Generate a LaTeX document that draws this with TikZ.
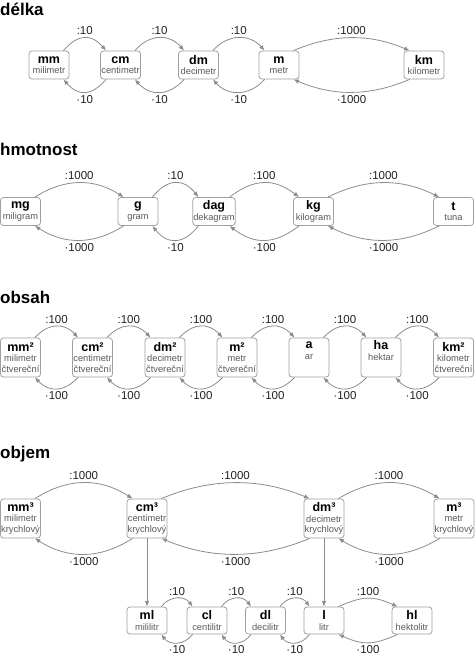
\documentclass[tikz,border=0pt]{standalone}
\usepackage{fontspec}
\setmainfont{Liberation Sans}
\usetikzlibrary{arrows.meta}
\definecolor{boxgray}{HTML}{A0A0A0}
\definecolor{arrowgray}{HTML}{8C8C8C}
\definecolor{namegray}{HTML}{5A5A5A}
\definecolor{labelgray}{HTML}{222222}
\newcommand{\jed}[1]{{\color{black}\fontsize{12.5}{13}\selectfont\bfseries #1}}

\begin{document}
\begin{tikzpicture}[x=1pt,y=-1pt]
  \tikzset{unitbox/.style = {draw=boxgray, line width=0.8pt, rounded corners=3pt, fill=white, align=center, minimum width=40pt, minimum height=28pt, inner xsep=0.5pt, inner ysep=1pt, text=namegray, font=\fontsize{9.3}{10.5}\selectfont}}
  \tikzset{tallbox/.style = {unitbox, minimum height=39pt}}
  \tikzset{lowbox/.style = {unitbox, minimum height=27pt}}
  \tikzset{conv/.style = {draw=arrowgray, line width=0.8pt, -{Latex[length=5.5pt,width=4.5pt]}}}
  \tikzset{factor/.style = {text=labelgray, font=\fontsize{11.5}{13}\selectfont, inner sep=2.5pt}}
  \tikzset{heading/.style = {anchor=base west, inner sep=0pt, font=\fontsize{17}{18}\selectfont\bfseries}}

  \useasboundingbox (0,0) rectangle (474,656);

  % délka
  \node[heading] (tdelka) at (0,15) {délka};
  \node[unitbox] (mm) at (49,65) {\jed{mm}\\milimetr};
  \node[unitbox] (cm) at (120.5,65) {\jed{cm}\\centimetr};
  \node[unitbox] (dm) at (198.5,65) {\jed{dm}\\decimetr};
  \node[unitbox] (m) at (279,65) {\jed{m}\\metr};
  \node[unitbox] (km) at (424,65) {\jed{km}\\kilometr};

  \foreach \from/\to/\q/\d in {mm/cm/10/15, cm/dm/10/15, dm/m/10/15, m/km/1000/40} {
    \draw[conv] ([xshift=-6pt]\from.north east) .. controls +(\d,-17) and +(-\d,-17) .. ([xshift=6pt]\to.north west) node[factor, above, midway] {:\q};
    \draw[conv] ([xshift=6pt]\to.south west) .. controls +(-\d,17) and +(\d,17) .. ([xshift=-6pt]\from.south east) node[factor, below, midway] {·\q};
  }

  % hmotnost
  \node[heading] (thmot) at (0,155) {hmotnost};
  \node[unitbox] (mg) at (20.5,211.5) {\jed{mg}\\miligram};
  \node[unitbox] (g) at (138,211.5) {\jed{g}\\gram};
  \node[unitbox] (dag) at (214,211.5) {\jed{dag}\\dekagram};
  \node[unitbox] (kg) at (313.5,211.5) {\jed{kg}\\kilogram};
  \node[unitbox] (t) at (453.5,211.5) {\jed{t}\\tuna};

  \foreach \from/\to/\q/\d in {mg/g/1000/30, g/dag/10/15, dag/kg/100/25, kg/t/1000/38} {
    \draw[conv] ([xshift=-6pt]\from.north east) .. controls +(\d,-19) and +(-\d,-19) .. ([xshift=6pt]\to.north west) node[factor, above, midway] {:\q};
    \draw[conv] ([xshift=6pt]\to.south west) .. controls +(-\d,19) and +(\d,19) .. ([xshift=-6pt]\from.south east) node[factor, below, midway] {·\q};
  }

  % obsah
  \node[heading] (tobsah) at (0,303) {obsah};
  \node[tallbox] (mmq) at (20.5,357.5) {\jed{mm²}\\milimetr\\čtvereční};
  \node[tallbox] (cmq) at (92.5,357.5) {\jed{cm²}\\centimetr\\čtvereční};
  \node[tallbox] (dmq) at (165,357.5) {\jed{dm²}\\decimetr\\čtvereční};
  \node[tallbox] (mq) at (237,357.5) {\jed{m²}\\metr\\čtvereční};
  \node[tallbox] (a) at (309,357.5) {\jed{a}\\ar\\\strut};
  \node[tallbox] (ha) at (381,357.5) {\jed{ha}\\hektar\\\strut};
  \node[tallbox] (kmq) at (453.5,357.5) {\jed{km²}\\kilometr\\čtvereční};

  \foreach \from/\to in {mmq/cmq, cmq/dmq, dmq/mq, mq/a, a/ha, ha/kmq} {
    \draw[conv] ([xshift=-6pt]\from.north east) .. controls +(14,-15) and +(-14,-15) .. ([xshift=6pt]\to.north west) node[factor, above, midway] {:100};
    \draw[conv] ([xshift=6pt]\to.south west) .. controls +(-14,15) and +(14,15) .. ([xshift=-6pt]\from.south east) node[factor, below, midway] {·100};
  }

  % objem
  \node[heading] (tobjem) at (0,458) {objem};
  \node[tallbox] (mmc) at (20.5,518.5) {\jed{mm³}\\milimetr\\krychlový};
  \node[tallbox] (cmc) at (147,518.5) {\jed{cm³}\\centimetr\\krychlový};
  \node[tallbox] (dmc) at (324,518.5) {\jed{dm³}\\decimetr\\krychlový};
  \node[tallbox] (mc) at (454,518.5) {\jed{m³}\\metr\\krychlový};

  \foreach \from/\to/\d in {mmc/cmc/33, cmc/dmc/50, dmc/mc/35} {
    \draw[conv] ([xshift=-6pt]\from.north east) .. controls +(\d,-21) and +(-\d,-21) .. ([xshift=6pt]\to.north west) node[factor, above, midway] {:1000};
    \draw[conv] ([xshift=6pt]\to.south west) .. controls +(-\d,21) and +(\d,21) .. ([xshift=-6pt]\from.south east) node[factor, below, midway] {·1000};
  }

  \node[lowbox] (ml) at (147,620.5) {\jed{ml}\\mililitr};
  \node[lowbox] (cl) at (207,620.5) {\jed{cl}\\centilitr};
  \node[lowbox] (dl) at (265.5,620.5) {\jed{dl}\\decilitr};
  \node[lowbox] (l) at (324,620.5) {\jed{l}\\litr};
  \node[lowbox] (hl) at (412,620.5) {\jed{hl}\\hektolitr};

  \draw[conv] (cmc) -- (ml);
  \draw[conv] (dmc) -- (l);

  \foreach \from/\to/\q/\d in {ml/cl/10/8, cl/dl/10/8, dl/l/10/8, l/hl/100/25} {
    \draw[conv] ([xshift=-6pt]\from.north east) .. controls +(\d,-11) and +(-\d,-11) .. ([xshift=6pt]\to.north west) node[factor, above, midway] {:\q};
    \draw[conv] ([xshift=6pt]\to.south west) .. controls +(-\d,11) and +(\d,11) .. ([xshift=-6pt]\from.south east) node[factor, below, midway] {·\q};
  }

\end{tikzpicture}
\end{document}
